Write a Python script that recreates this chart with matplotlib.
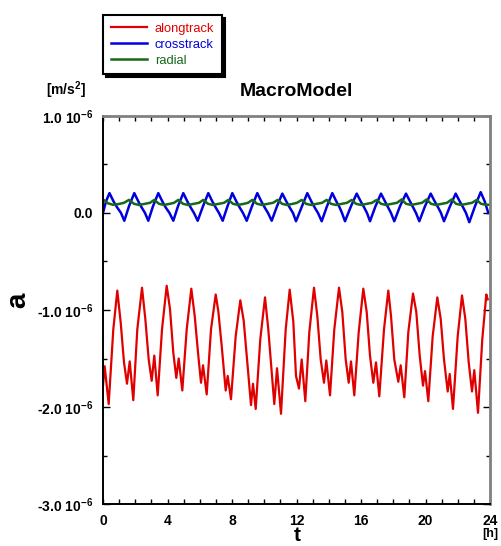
import matplotlib
matplotlib.use("Agg")
import matplotlib.pyplot as plt
from matplotlib.ticker import MultipleLocator, FixedLocator

plt.rcParams['font.family'] = ['Liberation Sans', 'DejaVu Sans']
plt.rcParams['mathtext.fontset'] = 'custom'
plt.rcParams['mathtext.rm'] = 'Liberation Sans'
plt.rcParams['mathtext.bf'] = 'Liberation Sans:bold'
plt.rcParams['mathtext.default'] = 'bf'

#Colours of the three components
Along_Col = "#e00000"
Cross_Col = "#0000dd"
Radial_Col = "#16691a"

#Accelerations in 1e-6 m/s^2, time in hours
red_hours = [0.0, 0.105, 0.353, 0.639, 0.887, 1.098, 1.302, 1.488, 1.656, 1.879,
             2.127, 2.419, 2.623, 2.834, 3.020, 3.181, 3.392, 3.659, 3.950, 4.155,
             4.360, 4.546, 4.695, 4.918, 5.191, 5.476, 5.687, 5.910, 6.078, 6.202,
             6.431, 6.698, 6.989, 7.150, 7.361, 7.609, 7.733, 7.938, 8.229, 8.515,
             8.725, 8.949, 9.178, 9.302, 9.470, 9.755, 10.047, 10.251, 10.462, 10.623,
             10.791, 11.039, 11.330, 11.578, 11.802, 11.969, 12.155, 12.322, 12.546, 12.794,
             13.085, 13.290, 13.501, 13.705, 13.848, 14.078, 14.344, 14.636, 14.840, 15.051,
             15.237, 15.380, 15.584, 15.857, 16.143, 16.353, 16.558, 16.763, 16.930, 17.135,
             17.426, 17.693, 17.860, 18.065, 18.313, 18.462, 18.685, 18.933, 19.225, 19.429,
             19.640, 19.845, 19.969, 20.174, 20.446, 20.732, 20.942, 21.147, 21.377, 21.501,
             21.705, 21.997, 22.264, 22.468, 22.679, 22.884, 23.026, 23.256, 23.522, 23.771,
             23.857]
red_vals = [-1.78, -1.58, -1.97, -1.20, -0.80, -1.13, -1.54, -1.76, -1.53, -1.93,
            -1.20, -0.77, -1.09, -1.51, -1.73, -1.47, -1.88, -1.20, -0.75, -0.99,
            -1.44, -1.70, -1.50, -1.83, -1.20, -0.78, -1.06, -1.47, -1.75, -1.57,
            -1.87, -1.20, -0.84, -1.01, -1.37, -1.83, -1.68, -1.92, -1.27, -0.90,
            -1.11, -1.54, -1.98, -1.76, -2.02, -1.30, -0.87, -1.20, -1.64, -1.97,
            -1.60, -2.07, -1.20, -0.79, -1.12, -1.68, -1.81, -1.51, -1.94, -1.23,
            -0.77, -1.06, -1.51, -1.75, -1.52, -1.88, -1.20, -0.77, -1.02, -1.51,
            -1.75, -1.53, -1.88, -1.23, -0.78, -1.02, -1.47, -1.75, -1.54, -1.89,
            -1.20, -0.80, -1.06, -1.51, -1.74, -1.57, -1.90, -1.23, -0.83, -1.02,
            -1.47, -1.78, -1.63, -1.94, -1.27, -0.87, -1.09, -1.51, -1.84, -1.66,
            -2.02, -1.27, -0.85, -1.09, -1.54, -1.84, -1.62, -2.06, -1.30, -0.84,
            -0.89]

blue_hours = [0.0, 0.186, 0.403, 0.651, 0.868, 1.116, 1.321, 1.612, 1.941, 2.189,
              2.388, 2.605, 2.809, 3.101, 3.429, 3.678, 3.876, 4.124, 4.360, 4.651,
              4.980, 5.228, 5.426, 5.643, 5.873, 6.202, 6.530, 6.778, 6.977, 7.194,
              7.423, 7.721, 8.019, 8.267, 8.465, 8.682, 8.912, 9.240, 9.569, 9.817,
              10.016, 10.233, 10.462, 10.791, 11.119, 11.367, 11.566, 11.783, 11.969, 12.341,
              12.670, 12.918, 13.116, 13.333, 13.563, 13.891, 14.220, 14.468, 14.667, 14.822,
              15.008, 15.380, 15.733, 15.981, 16.186, 16.372, 16.558, 16.899, 17.240, 17.488,
              17.674, 17.860, 18.065, 18.419, 18.791, 19.039, 19.225, 19.411, 19.616, 19.969,
              20.322, 20.570, 20.775, 20.961, 21.147, 21.519, 21.873, 22.121, 22.326, 22.512,
              22.716, 23.070, 23.423, 23.671, 23.895]
blue_vals = [0.00, 0.12, 0.205, 0.12, 0.06, 0.00, -0.08, 0.07, 0.205, 0.12,
             0.06, 0.00, -0.08, 0.07, 0.205, 0.12, 0.06, 0.00, -0.08, 0.07,
             0.205, 0.12, 0.06, 0.00, -0.08, 0.07, 0.205, 0.12, 0.06, 0.00,
             -0.08, 0.07, 0.205, 0.12, 0.06, 0.00, -0.08, 0.07, 0.205, 0.12,
             0.06, 0.00, -0.08, 0.07, 0.20, 0.12, 0.06, 0.00, -0.085, 0.07,
             0.205, 0.12, 0.06, 0.00, -0.085, 0.07, 0.205, 0.12, 0.06, 0.00,
             -0.085, 0.07, 0.20, 0.12, 0.06, 0.00, -0.085, 0.07, 0.20, 0.12,
             0.06, 0.00, -0.085, 0.07, 0.20, 0.12, 0.06, 0.00, -0.085, 0.07,
             0.20, 0.12, 0.06, 0.00, -0.085, 0.07, 0.20, 0.12, 0.06, 0.00,
             -0.095, 0.07, 0.215, 0.12, 0.00]

green_hours = [0.0, 0.310, 0.620, 0.992, 1.302, 1.612, 1.922, 2.233, 2.605, 2.915,
               3.181, 3.473, 3.783, 4.155, 4.403, 4.670, 4.961, 5.271, 5.643, 5.953,
               6.220, 6.512, 6.822, 7.194, 7.504, 7.771, 8.062, 8.372, 8.744, 8.992,
               9.259, 9.550, 9.860, 10.233, 10.543, 10.834, 11.101, 11.411, 11.783, 12.031,
               12.322, 12.589, 12.899, 13.271, 13.581, 13.873, 14.140, 14.450, 14.822, 15.132,
               15.423, 15.690, 16.000, 16.372, 16.682, 16.974, 17.240, 17.550, 17.922, 18.233,
               18.524, 18.791, 19.101, 19.473, 19.783, 20.074, 20.341, 20.651, 21.023, 21.333,
               21.625, 21.891, 22.202, 22.574, 22.884, 23.175, 23.442, 23.752, 23.938]
green_vals = [0.14, 0.10, 0.085, 0.093, 0.105, 0.135, 0.095, 0.083, 0.095, 0.105,
              0.135, 0.095, 0.083, 0.095, 0.105, 0.135, 0.095, 0.083, 0.095, 0.105,
              0.135, 0.095, 0.083, 0.095, 0.105, 0.135, 0.095, 0.083, 0.095, 0.105,
              0.135, 0.095, 0.083, 0.095, 0.105, 0.135, 0.095, 0.083, 0.095, 0.105,
              0.135, 0.095, 0.083, 0.095, 0.105, 0.135, 0.095, 0.083, 0.095, 0.105,
              0.135, 0.095, 0.083, 0.095, 0.105, 0.135, 0.095, 0.083, 0.095, 0.105,
              0.14, 0.095, 0.083, 0.095, 0.105, 0.14, 0.095, 0.083, 0.095, 0.105,
              0.14, 0.095, 0.083, 0.095, 0.105, 0.135, 0.095, 0.085, 0.085]

y_ticks = [-3, -2, -1, 0, 1]
y_tick_labels = ['-3.0 10$^{-6}$', '-2.0 10$^{-6}$', '-1.0 10$^{-6}$', '0.0', '1.0 10$^{-6}$']
x_ticks = [0, 4, 8, 12, 16, 20, 24]

fig = plt.figure(figsize=(5.01, 5.46), dpi=100)
ax = fig.add_axes([103/501, 42/546, 387/501, 388/546])

ax.plot(red_hours, red_vals, color=Along_Col, linewidth=1.6, label="alongtrack",
        solid_joinstyle='round')
ax.plot(blue_hours, blue_vals, color=Cross_Col, linewidth=1.8, label="crosstrack",
        solid_joinstyle='round')
ax.plot(green_hours, green_vals, color=Radial_Col, linewidth=1.8, label="radial",
        solid_joinstyle='round')

ax.set_xlim(0, 24)
ax.set_ylim(-3, 1)

ax.xaxis.set_major_locator(FixedLocator(x_ticks))
ax.xaxis.set_minor_locator(MultipleLocator(1))
ax.yaxis.set_major_locator(FixedLocator(y_ticks))
ax.yaxis.set_minor_locator(MultipleLocator(0.5))
ax.set_yticklabels(y_tick_labels)
ax.set_xticklabels([str(v) for v in x_ticks])

ax.tick_params(which='both', direction='in', top=True, right=True, width=1.0, color='black')
ax.tick_params(axis='y', which='major', length=5.0, pad=7, labelsize=10)
ax.tick_params(axis='y', which='minor', length=3.0)
ax.tick_params(axis='x', which='both', length=3.6, pad=7, labelsize=10)
for lab in ax.get_xticklabels() + ax.get_yticklabels():
    lab.set_fontweight('bold')

for side in ['left', 'bottom']:
    ax.spines[side].set_linewidth(1.4)
    ax.spines[side].set_color('black')
for side in ['top', 'right']:
    ax.spines[side].set_linewidth(2.0)
    ax.spines[side].set_color('#808080')

#Labels and title placed in figure coordinates
fig.text(296.5/501, 1 - 91/546, "MacroModel", ha='center', va='center',
         fontsize=14, fontweight='bold')
fig.text(66/501, 1 - 90/546, "[m/s$^2$]", ha='center', va='center',
         fontsize=10, fontweight='bold')
fig.text(18/501, 1 - 300/546, "a", ha='center', va='center', rotation=90,
         fontsize=20, fontweight='bold')
fig.text(297/501, 1/546, "t", ha='center', va='bottom',
         fontsize=15, fontweight='bold')
fig.text(490/501, 1 - 534/546, "[h]", ha='center', va='center',
         fontsize=9, fontweight='bold')

leg = fig.legend(loc='upper left', bbox_to_anchor=(103/501, 1 - 15/546),
                 borderaxespad=0, fancybox=False, fontsize=9.3,
                 handlelength=2.8, handletextpad=0.6, labelspacing=0.3,
                 borderpad=0.6,
                 shadow={'color': 'black', 'alpha': 1.0, 'ox': 2.2, 'oy': -2.2})
leg.get_frame().set_edgecolor('black')
leg.get_frame().set_linewidth(1.5)
for txt, col in zip(leg.get_texts(), [Along_Col, Cross_Col, Radial_Col]):
    txt.set_color(col)

fig.savefig("out.png", dpi=100)
